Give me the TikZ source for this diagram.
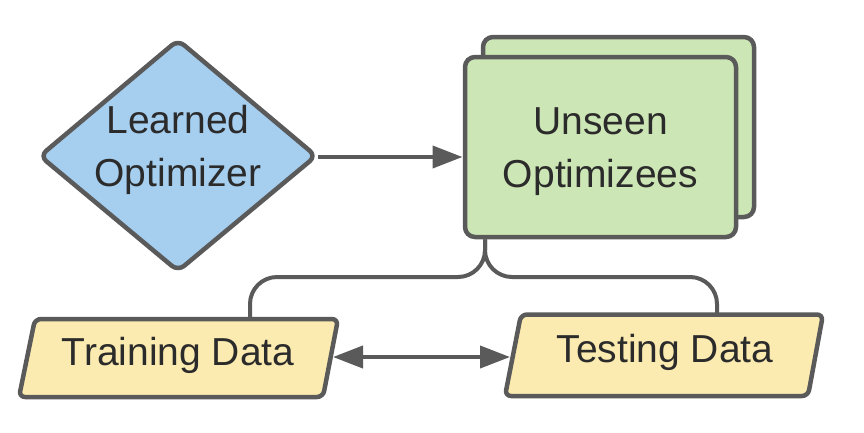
\documentclass[tikz,border=0pt]{standalone}
\usepackage{fontspec}
\setmainfont{Liberation Sans}
\usetikzlibrary{arrows.meta}
\definecolor{bord}{HTML}{5A5A5A}
\definecolor{txtc}{HTML}{2B2B2B}
\definecolor{bluef}{HTML}{A5CEEF}
\definecolor{greenf}{HTML}{CDE6B5}
\definecolor{yellowf}{HTML}{FCEBB0}
\begin{document}
\begin{tikzpicture}[x=1pt,y=-1pt,
  shapeline/.style={draw=bord, line width=4.5pt, line join=round},
  lbl/.style={font=\fontsize{39}{53.5}\selectfont, text=txtc, align=center, inner sep=0pt},
  conn/.style={draw=bord, line width=4pt},
  tip/.tip={Triangle[length=30pt,width=22pt]}]
\useasboundingbox (0,0) rectangle (864,432);
% Learned optimizer diamond
\draw[shapeline, fill=bluef, rounded corners=8pt] (40,156) -- (178,40) -- (316,156) -- (178,271) -- cycle;
\coordinate (optR) at (318,157);
\node[lbl] (opt) at (178,150) {Learned\\Optimizer};
% Unseen optimizees stacked rectangles
\draw[shapeline, fill=greenf, rounded corners=10pt] (483,37) rectangle (754,217);
\node[shapeline, fill=greenf, rounded corners=10pt, minimum width=271pt, minimum height=180pt, inner sep=0pt] (uo) at (600.5,147) {};
\node[lbl] (uotext) at (600.5,151.5) {Unseen\\Optimizees};
\coordinate (uoL) at (462.5,157);
\coordinate (j) at ([xshift=-115.5pt]uo.south);
% Training data
\draw[shapeline, fill=yellowf, rounded corners=6pt] (35,319) -- (338,319) -- (323,397) -- (19,397) -- cycle;
\node[lbl, anchor=base] (train) at (178,365) {Training Data};
\coordinate (trTop) at (250,319);
\coordinate (trR) at (333,357);
% Testing data
\draw[shapeline, fill=yellowf, rounded corners=6pt] (521,314.5) -- (823,314.5) -- (808,396) -- (505,396) -- cycle;
\node[lbl, anchor=base] (test) at (665,362) {Testing Data};
\coordinate (teTop) at (717,314.5);
\coordinate (teL) at (510,357);
% connectors
\draw[conn, -tip] (optR) -- (uoL);
\draw[conn, rounded corners=27pt] (j) -- (485,277) -- (250,277) -- (trTop);
\draw[conn, rounded corners=27pt] (j) -- (485,277) -- (717,277) -- (teTop);
\draw[conn, tip-tip] (trR) -- (teL);
\end{tikzpicture}
\end{document}
